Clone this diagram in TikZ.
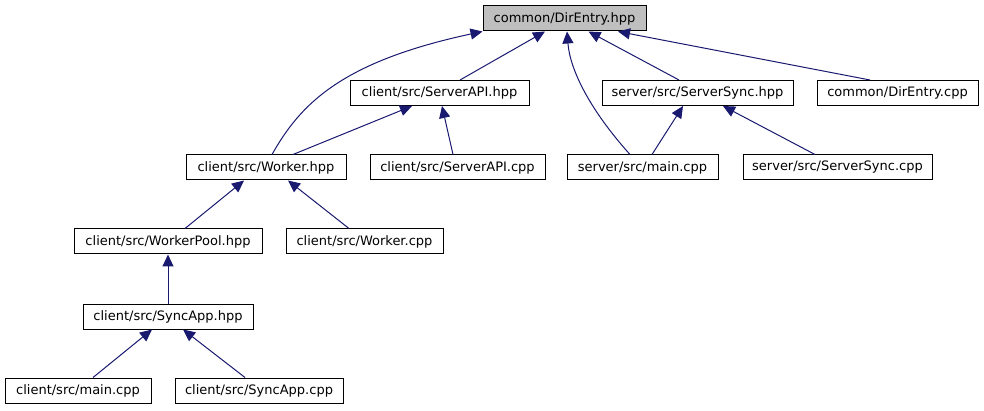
\documentclass[tikz,border=0pt]{standalone}
\usepackage{fontspec}
\setmainfont{DejaVu Sans}
\usetikzlibrary{arrows.meta}
\definecolor{edgecol}{HTML}{191970}
\definecolor{boxgray}{HTML}{BFBFBF}
\tikzset{
  filebox/.style={draw=black, line width=1pt, fill=white, inner sep=0pt,
    minimum height=25pt, font=\fontsize{13}{15}\selectfont},
  rootbox/.style={filebox, fill=boxgray},
  dep/.style={draw=edgecol, line width=1pt, {Triangle[length=12pt,width=11pt]}-}
}
\begin{document}
\begin{tikzpicture}[x=1pt,y=-1pt]
\useasboundingbox (0,0) rectangle (984,411);
% nodes
\node[rootbox, minimum width=163pt] (deh) at (564.5,18.5) {common/DirEntry.hpp};
\node[filebox, minimum width=179pt] (sapih) at (439.5,93) {client/src/ServerAPI.hpp};
\node[filebox, minimum width=191pt] (sshpp) at (697.5,93) {server/src/ServerSync.hpp};
\node[filebox, minimum width=161pt] (decpp) at (897.5,93) {common/DirEntry.cpp};
\node[filebox, minimum width=160pt] (wh) at (266,167.5) {client/src/Worker.hpp};
\node[filebox, minimum width=175pt] (sapic) at (457.5,167.5) {client/src/ServerAPI.cpp};
\node[filebox, minimum width=151pt] (smain) at (642.5,167.5) {server/src/main.cpp};
\node[filebox, minimum width=189pt] (sscpp) at (837.5,167.5) {server/src/ServerSync.cpp};
\node[filebox, minimum width=188pt] (wph) at (168,241.5) {client/src/WorkerPool.hpp};
\node[filebox, minimum width=157pt] (wc) at (364.5,241.5) {client/src/Worker.cpp};
\node[filebox, minimum width=170pt] (sah) at (168,316.5) {client/src/SyncApp.hpp};
\node[filebox, minimum width=146pt] (cmain) at (78,390.5) {client/src/main.cpp};
\node[filebox, minimum width=168pt] (sac) at (259,390.5) {client/src/SyncApp.cpp};
% edges (arrow at the included file)
\draw[dep] (deh.south west) .. controls (340,62) and (300,105) .. ([xshift=6pt]wh.north);
\draw[dep] ([xshift=-19.5pt]deh.south) -- ([xshift=20.5pt]sapih.north);
\draw[dep] ([xshift=2.5pt]deh.south) .. controls (570,70) and (590,110) .. ([xshift=-12.5pt]smain.north);
\draw[dep] ([xshift=24pt]deh.south) -- ([xshift=-18.5pt]sshpp.north);
\draw[dep] ([xshift=53.5pt]deh.south) -- ([xshift=-27.5pt]decpp.north);
\draw[dep] ([xshift=-27.5pt]sapih.south) -- ([xshift=27pt]wh.north);
\draw[dep] ([xshift=2.5pt]sapih.south) -- ([xshift=-4.5pt]sapic.north);
\draw[dep] ([xshift=-14.5pt]sshpp.south) -- ([xshift=9.5pt]smain.north);
\draw[dep] ([xshift=25.5pt]sshpp.south) -- ([xshift=-22.5pt]sscpp.north);
\draw[dep] ([xshift=-22pt]wh.south) -- ([xshift=17pt]wph.north);
\draw[dep] ([xshift=22pt]wh.south) -- ([xshift=-15.5pt]wc.north);
\draw[dep] (wph.south) -- (sah.north);
\draw[dep] ([xshift=-16pt]sah.south) -- ([xshift=15pt]cmain.north);
\draw[dep] ([xshift=15pt]sah.south) -- ([xshift=-14pt]sac.north);
\end{tikzpicture}
\end{document}
